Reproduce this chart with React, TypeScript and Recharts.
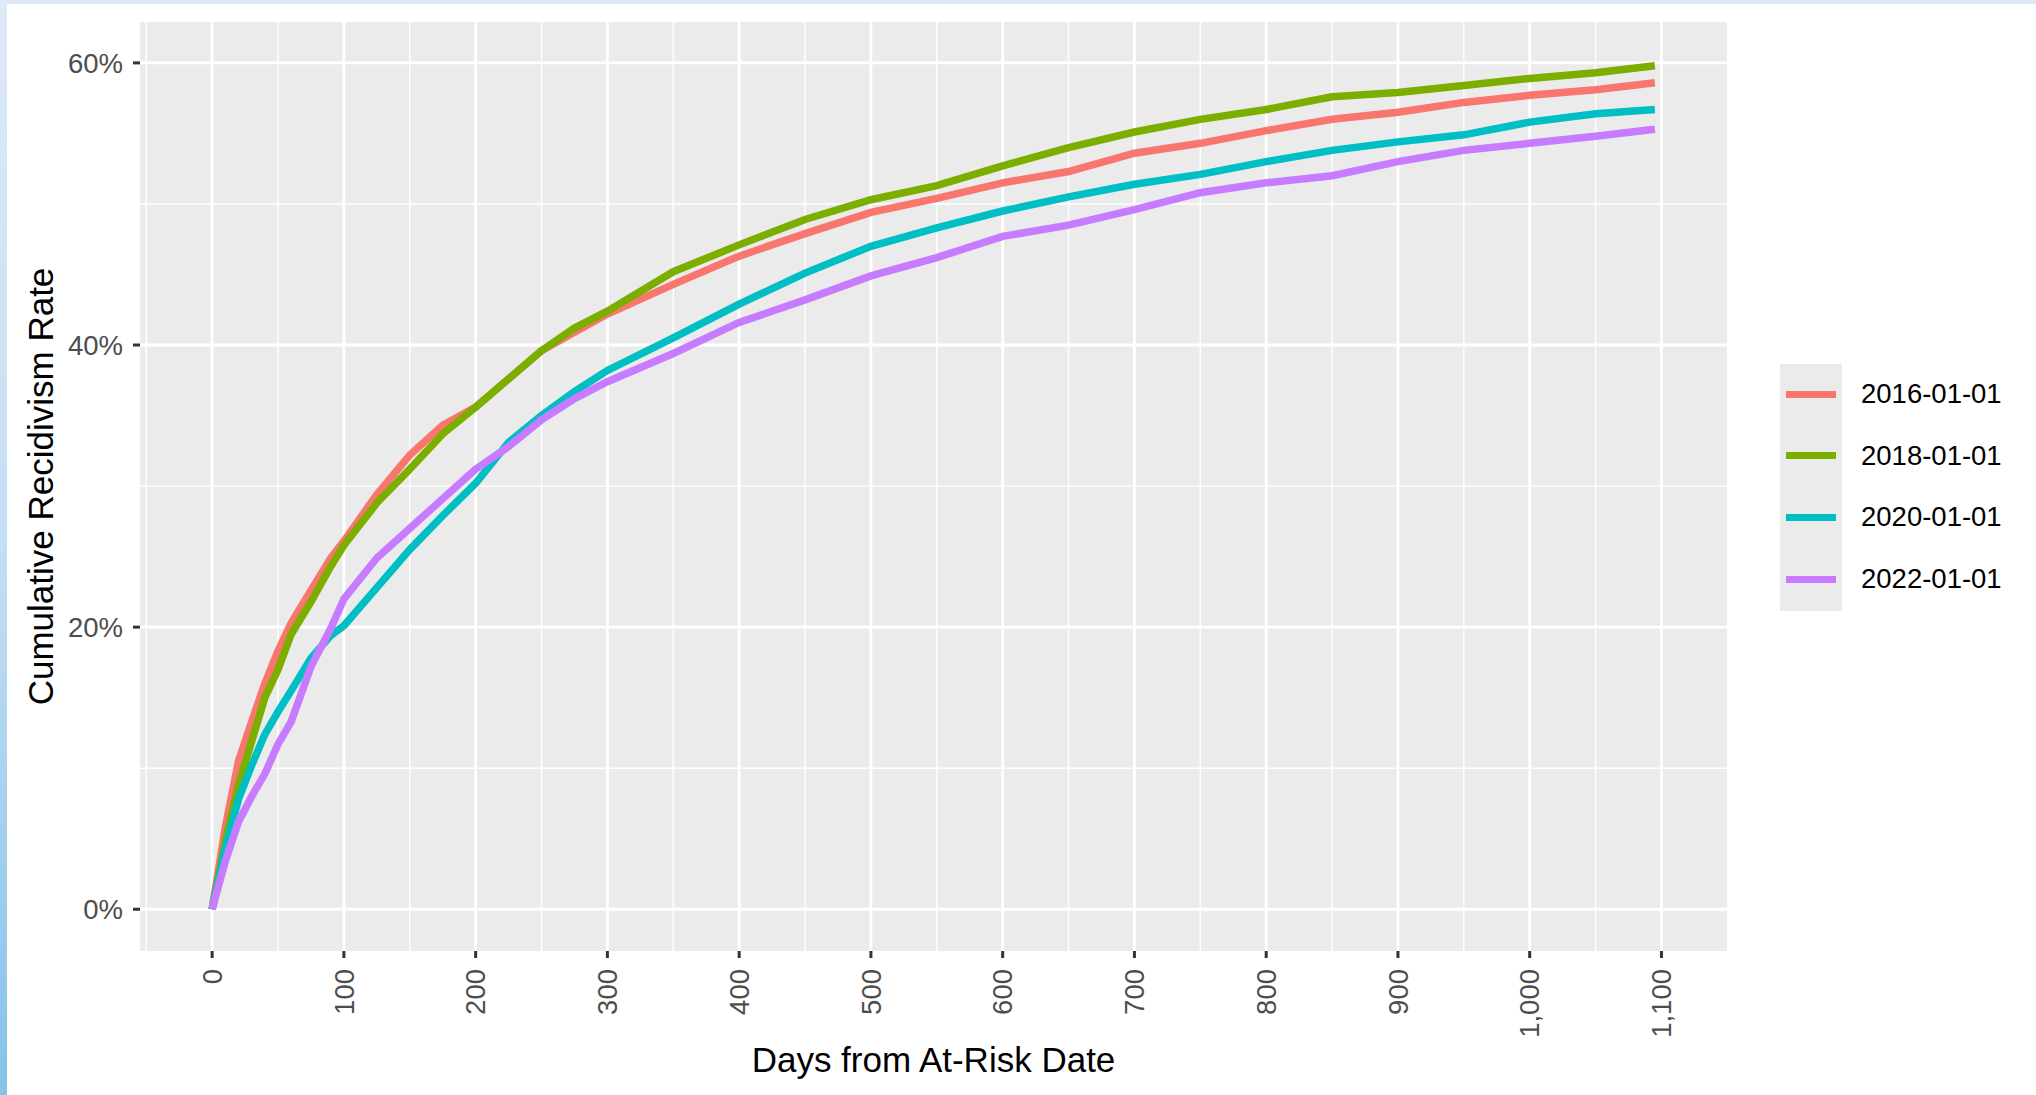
import React from 'react';
import { LineChart, Line, XAxis, YAxis, CartesianGrid } from 'recharts';

// days since at-risk date
const days = [0, 10, 20, 30, 40, 50, 60, 75, 90, 100, 125, 150, 175, 200, 225, 250, 275, 300, 350, 400, 450, 500, 550, 600, 650, 700, 750, 800, 850, 900, 950, 1000, 1050, 1095];

// cumulative recidivism rate (%) per cohort
const rate2016 = [0, 5.8, 10.5, 13.3, 16.0, 18.3, 20.3, 22.6, 24.9, 26.1, 29.4, 32.2, 34.3, 35.6, 37.6, 39.6, 40.9, 42.2, 44.3, 46.3, 47.9, 49.4, 50.4, 51.5, 52.3, 53.6, 54.3, 55.2, 56.0, 56.5, 57.2, 57.7, 58.1, 58.6];
const rate2018 = [0, 4.8, 8.8, 11.9, 15.0, 17.0, 19.5, 21.8, 24.3, 25.8, 28.8, 31.2, 33.7, 35.6, 37.6, 39.6, 41.2, 42.4, 45.2, 47.1, 48.9, 50.3, 51.3, 52.7, 54.0, 55.1, 56.0, 56.7, 57.6, 57.9, 58.4, 58.9, 59.3, 59.8];
const rate2020 = [0, 4.3, 7.8, 10.2, 12.4, 14.0, 15.5, 17.8, 19.4, 20.1, 22.8, 25.5, 27.9, 30.2, 33.1, 35.0, 36.7, 38.2, 40.5, 42.9, 45.1, 47.0, 48.3, 49.5, 50.5, 51.4, 52.1, 53.0, 53.8, 54.4, 54.9, 55.8, 56.4, 56.7];
const rate2022 = [0, 3.4, 6.2, 8.0, 9.6, 11.7, 13.3, 17.2, 19.9, 22.0, 24.9, 27.0, 29.1, 31.2, 32.8, 34.7, 36.2, 37.4, 39.4, 41.6, 43.2, 44.9, 46.2, 47.7, 48.5, 49.6, 50.8, 51.5, 52.0, 53.0, 53.8, 54.3, 54.8, 55.3];

const seriesNames = ['2016-01-01', '2018-01-01', '2020-01-01', '2022-01-01'];
const seriesValues = [rate2016, rate2018, rate2020, rate2022];
const seriesColors = ['#F8766D', '#7CAE00', '#00BFC4', '#C77CFF'];

const xMajorTicks = [0, 100, 200, 300, 400, 500, 600, 700, 800, 900, 1000, 1100];
const xMinorTicks = [-50, 50, 150, 250, 350, 450, 550, 650, 750, 850, 950, 1050];
const yMajorTicks = [0, 20, 40, 60];
const yMinorTicks = [10, 30, 50];

const FONT = '"Liberation Sans", Arial, sans-serif';

const data = days.map((day, i) => {
  const row: Record<string, number> = { day };
  seriesNames.forEach((name, s) => {
    row[name] = seriesValues[s][i];
  });
  return row;
});

const XTick = ({ x, y, payload }: any) => (
  <text
    x={x}
    y={y}
    transform={`rotate(-90, ${x}, ${y})`}
    textAnchor="end"
    dy="0.35em"
    fontSize={27.5}
    fill="#4D4D4D"
    fontFamily={FONT}
  >
    {Number(payload.value).toLocaleString('en-US')}
  </text>
);

export default function App() {
  return (
    <div
      style={{
        position: 'absolute',
        left: 0,
        top: 0,
        width: 2036,
        height: 1095,
        background: 'linear-gradient(to bottom, #dde9f7 0%, #c4def4 50%, #86c2ea 100%)',
        fontFamily: FONT,
      }}
    >
      <div style={{ position: 'absolute', left: 7, top: 4, right: 0, bottom: 0, background: '#FFFFFF' }} />
      <div style={{ position: 'absolute', left: 0, top: 0 }}>
        <LineChart width={2036} height={1095} data={data} margin={{ top: 22, right: 309, bottom: 0, left: 0 }}>
          <CartesianGrid
            fill="#EBEBEB"
            fillOpacity={1}
            stroke="#FFFFFF"
            strokeWidth={1.4}
            horizontalValues={yMinorTicks}
            verticalValues={xMinorTicks}
          />
          <CartesianGrid
            stroke="#FFFFFF"
            strokeWidth={2.8}
            horizontalValues={yMajorTicks}
            verticalValues={xMajorTicks}
          />
          <XAxis
            type="number"
            dataKey="day"
            domain={[-54.75, 1149.75]}
            ticks={xMajorTicks}
            allowDataOverflow
            height={144}
            axisLine={false}
            tickSize={7}
            tickMargin={11}
            tickLine={{ stroke: '#333333', strokeWidth: 3 }}
            tick={<XTick />}
            label={{
              content: ({ viewBox }: any) => (
                <text
                  x={viewBox.x + viewBox.width / 2}
                  y={viewBox.y + 121}
                  textAnchor="middle"
                  fontSize={35}
                  fill="#000000"
                  fontFamily={FONT}
                >
                  Days from At-Risk Date
                </text>
              ),
            }}
          />
          <YAxis
            type="number"
            domain={[-2.96, 62.9]}
            ticks={yMajorTicks}
            allowDataOverflow
            width={140}
            axisLine={false}
            tickSize={7}
            tickMargin={10}
            tickLine={{ stroke: '#333333', strokeWidth: 3 }}
            tickFormatter={(v: number) => `${v}%`}
            tick={{ fontSize: 27.5, fill: '#4D4D4D', fontFamily: FONT }}
            label={{
              content: ({ viewBox }: any) => {
                const cx = viewBox.x + 53;
                const cy = viewBox.y + viewBox.height / 2;
                return (
                  <text
                    x={cx}
                    y={cy}
                    transform={`rotate(-90, ${cx}, ${cy})`}
                    textAnchor="middle"
                    fontSize={35}
                    fill="#000000"
                    fontFamily={FONT}
                  >
                    Cumulative Recidivism Rate
                  </text>
                );
              },
            }}
          />
          {seriesNames.map((name, s) => (
            <Line
              key={name}
              type="linear"
              dataKey={name}
              stroke={seriesColors[s]}
              strokeWidth={7.5}
              dot={false}
              activeDot={false}
              isAnimationActive={false}
            />
          ))}
        </LineChart>
      </div>
      {/* legend */}
      <div style={{ position: 'absolute', left: 1780, top: 364, width: 62, height: 247, background: '#EBEBEB' }} />
      {seriesNames.map((name, s) => (
        <React.Fragment key={name}>
          <div
            style={{
              position: 'absolute',
              left: 1786,
              top: 394 + s * 61.7 - 3.5,
              width: 50,
              height: 7,
              background: seriesColors[s],
            }}
          />
          <div
            style={{
              position: 'absolute',
              left: 1861,
              top: 394 + s * 61.7 - 16,
              height: 32,
              lineHeight: '32px',
              fontSize: 27.5,
              color: '#000000',
              whiteSpace: 'nowrap',
            }}
          >
            {name}
          </div>
        </React.Fragment>
      ))}
    </div>
  );
}
